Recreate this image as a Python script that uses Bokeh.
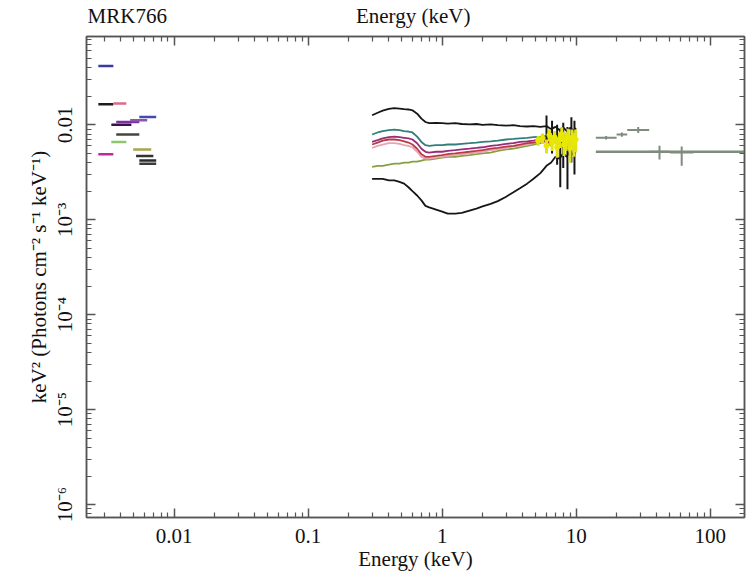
import numpy as np
from bokeh.plotting import figure
from bokeh.models import (LogAxis, FixedTicker, CustomJSTickFormatter,
                          ColumnDataSource, Range1d)
from bokeh.embed import file_html
from bokeh.resources import INLINE

# ---------------------------------------------------------------- data
# Optical/UV photometry: energy band (keV), flux (keV^2 ph cm^-2 s^-1 keV^-1)
OM_E_LO = [0.00272, 0.00272, 0.00352, 0.00340, 0.00370, 0.00550, 0.00470,
           0.00370, 0.00340, 0.00272, 0.00495, 0.00520, 0.00550, 0.00550]
OM_E_HI = [0.00352, 0.00352, 0.00440, 0.00480, 0.00550, 0.00735, 0.00630,
           0.00550, 0.00440, 0.00352, 0.00675, 0.00700, 0.00735, 0.00735]
OM_FLUX = [0.0415, 0.0165, 0.0168, 0.0100, 0.0107, 0.0121, 0.0112,
           0.0079, 0.0066, 0.0049, 0.0055, 0.0047, 0.0042, 0.0039]
OM_COLOR = ["#3a3aa6", "#1e1e1e", "#d86a8a", "#3a1050", "#7a30a0", "#4848b0",
            "#8a58aa", "#444444", "#8cc86a", "#c0289e", "#a6a64a", "#333333",
            "#2a2a2a", "#3a3a3a"]

# X-ray spectra (0.3-10 keV) on a common energy grid
XR_E = [0.30, 0.33, 0.36, 0.40, 0.44, 0.48, 0.52, 0.56, 0.60, 0.65, 0.70, 0.75,
        0.80, 0.90, 1.00, 1.10, 1.25, 1.40, 1.60, 1.80, 2.00, 2.30, 2.60, 3.00,
        3.40, 3.80, 4.30, 4.80, 5.40, 6.00, 6.50, 7.00, 7.50, 8.00, 8.50, 9.00,
        9.50, 10.0]
SPEC_HIGH = [0.0126, 0.0134, 0.0141, 0.0147, 0.0150, 0.0148, 0.0146, 0.0145,
             0.0142, 0.0131, 0.0116, 0.0107, 0.0104, 0.0105, 0.0104, 0.0103,
             0.0104, 0.0102, 0.0101, 0.0102, 0.0100, 0.0101, 0.0099, 0.0098,
             0.0099, 0.0097, 0.0096, 0.0097, 0.0095, 0.0097, 0.0090, 0.0095,
             0.0088, 0.0094, 0.0086, 0.0093, 0.0087, 0.0092]
SPEC_TEAL = [0.0079, 0.0083, 0.0086, 0.0088, 0.0089, 0.0088, 0.0086, 0.0085,
             0.0083, 0.0075, 0.0066, 0.0061, 0.0060, 0.0061, 0.0061, 0.0062,
             0.0062, 0.0063, 0.0064, 0.0065, 0.0066, 0.0067, 0.0068, 0.0070,
             0.0071, 0.0072, 0.0073, 0.0074, 0.0075, 0.0076, 0.0072, 0.0078,
             0.0071, 0.0077, 0.0070, 0.0078, 0.0072, 0.0076]
SPEC_MAGENTA = [0.0066, 0.0069, 0.0072, 0.0074, 0.0075, 0.0074, 0.0073, 0.0072,
                0.0070, 0.0064, 0.0056, 0.0052, 0.0051, 0.0052, 0.0052, 0.0053,
                0.0054, 0.0055, 0.0056, 0.0057, 0.0058, 0.0060, 0.0061, 0.0063,
                0.0064, 0.0066, 0.0067, 0.0068, 0.0070, 0.0071, 0.0067, 0.0073,
                0.0066, 0.0072, 0.0065, 0.0074, 0.0066, 0.0071]
SPEC_RED = [0.0062, 0.0065, 0.0068, 0.0070, 0.0070, 0.0069, 0.0067, 0.0065,
            0.0062, 0.0056, 0.0049, 0.0046, 0.0046, 0.0047, 0.0048, 0.0049,
            0.0050, 0.0051, 0.0052, 0.0053, 0.0054, 0.0056, 0.0057, 0.0059,
            0.0060, 0.0062, 0.0064, 0.0065, 0.0067, 0.0068, 0.0063, 0.0070,
            0.0062, 0.0069, 0.0061, 0.0071, 0.0063, 0.0068]
SPEC_PINK = [0.0057, 0.0060, 0.0062, 0.0064, 0.0064, 0.0063, 0.0061, 0.0060,
             0.0058, 0.0052, 0.0046, 0.0044, 0.0044, 0.0045, 0.0046, 0.0047,
             0.0048, 0.0049, 0.0050, 0.0051, 0.0052, 0.0054, 0.0055, 0.0057,
             0.0059, 0.0060, 0.0062, 0.0064, 0.0066, 0.0067, 0.0061, 0.0069,
             0.0060, 0.0068, 0.0062, 0.0070, 0.0061, 0.0067]
SPEC_OLIVE = [0.0036, 0.0037, 0.0037, 0.0038, 0.0039, 0.0039, 0.0040, 0.0040,
              0.0041, 0.0041, 0.0042, 0.0043, 0.0043, 0.0044, 0.0045, 0.0046,
              0.0046, 0.0047, 0.0048, 0.0049, 0.0050, 0.0051, 0.0053, 0.0055,
              0.0056, 0.0058, 0.0060, 0.0062, 0.0064, 0.0066, 0.0060, 0.0068,
              0.0059, 0.0067, 0.0058, 0.0069, 0.0060, 0.0066]
SPEC_LOW = [0.0027, 0.0027, 0.0027, 0.0026, 0.0026, 0.0025, 0.0024, 0.0022,
            0.0020, 0.0018, 0.0016, 0.00140, 0.00135, 0.00128, 0.00122, 0.00116,
            0.00116, 0.00118, 0.00125, 0.00131, 0.00138, 0.00147, 0.00157,
            0.00175, 0.00195, 0.00215, 0.00240, 0.00270, 0.0031, 0.0037, 0.0040,
            0.0046, 0.0044, 0.0050, 0.0046, 0.0053, 0.0048, 0.0054]
SPEC_SERIES = [SPEC_LOW, SPEC_OLIVE, SPEC_PINK, SPEC_RED, SPEC_MAGENTA,
               SPEC_TEAL, SPEC_HIGH]
SPEC_COLORS = ["#161616", "#86a040", "#e6a4b4", "#b83a44", "#9a2a7a",
               "#2f7f7a", "#161616"]

# high-energy end of the pn spectra: binned points with errors
HI_E = [5.2, 5.6, 6.0, 6.3, 6.6, 6.9, 7.2, 7.5, 7.8, 8.1, 8.4, 8.7, 9.0, 9.3,
        9.6, 9.9]
HI_F = [0.0068, 0.0072, 0.0060, 0.0078, 0.0065, 0.0074, 0.0058, 0.0070,
        0.0080, 0.0062, 0.0068, 0.0075, 0.0057, 0.0072, 0.0064, 0.0070]
HI_ERR = [0.0008, 0.0009, 0.0010, 0.0011, 0.0012, 0.0012, 0.0013, 0.0013,
          0.0014, 0.0015, 0.0015, 0.0016, 0.0017, 0.0017, 0.0018, 0.0019]
SPIKE_E = [6.0, 6.6, 7.2, 7.6, 8.0, 8.6, 9.2, 9.7]
SPIKE_LO = [0.0065, 0.0050, 0.0038, 0.0022, 0.0035, 0.0021, 0.0040, 0.0030]
SPIKE_HI = [0.0125, 0.0110, 0.0100, 0.0090, 0.0105, 0.0095, 0.0120, 0.0110]

# hard X-ray survey points and model
BAT_E_LO = [14.0, 20.0, 24.0, 35.0, 50.0]
BAT_E_HI = [20.0, 24.0, 35.0, 50.0, 75.0]
BAT_E = [16.7, 21.9, 29.0, 41.8, 61.2]
BAT_F = [0.0073, 0.0079, 0.0088, 0.0052, 0.0051]
BAT_F_LO = [0.0070, 0.0075, 0.0082, 0.0043, 0.0037]
BAT_F_HI = [0.0076, 0.0083, 0.0095, 0.0060, 0.0059]
BAT_MODEL_E = [14.0, 195.0]
BAT_MODEL_F = [0.0052, 0.0052]

X_TICKS = [0.01, 0.1, 1.0, 10.0, 100.0]
X_TICK_LABELS = ["0.01", "0.1", "1", "10", "100"]
Y_TICKS = [1e-6, 1e-5, 1e-4, 1e-3, 1e-2]
Y_TICK_LABELS = ["10\u207b\u2076", "10\u207b\u2075", "10\u207b\u2074",
                 "10\u207b\u00b3", "0.01"]
SOURCE_NAME = "MRK766"
ENERGY_TITLE = "Energy (keV)"

# ---------------------------------------------------------------- figure
FONT = "Liberation Serif"
FONT_SIZE = "21px"
AXIS_COLOR = "#555555"
TOP, BOTTOM, LEFT, RIGHT = 36, 53, 86, 4

p = figure(width=748, height=573, x_axis_type="log", y_axis_type="log",
           x_range=Range1d(0.00222, 180.0), y_range=Range1d(10 ** -6.136, 10 ** -1.07),
           output_backend="svg", toolbar_location=None,
           min_border_left=LEFT, min_border_right=RIGHT, min_border_top=TOP,
           min_border_bottom=BOTTOM, background_fill_color="white",
           border_fill_color="white")
p.grid.visible = False
p.outline_line_color = AXIS_COLOR
p.outline_line_width = 1.5

x_minor = [m * 10.0 ** k for k in range(-3, 3) for m in range(2, 10)]
y_minor = [m * 10.0 ** k for k in range(-7, -1) for m in range(2, 10)]

label_fmt_code = """
let best = 0, bd = Infinity;
for (let i = 0; i < tick_vals.length; i++) {
  const d = Math.abs(Math.log10(tick) - Math.log10(tick_vals[i]));
  if (d < bd) { bd = d; best = i; }
}
return tick_text[best];
"""
blank_fmt = CustomJSTickFormatter(code="return '';")


def style_axis(ax):
    ax.axis_line_color = AXIS_COLOR
    ax.axis_line_width = 1.5
    ax.major_tick_line_color = AXIS_COLOR
    ax.minor_tick_line_color = AXIS_COLOR
    ax.major_tick_line_width = 1.5
    ax.minor_tick_line_width = 1.2
    ax.major_tick_in = 9
    ax.major_tick_out = 0
    ax.minor_tick_in = 5
    ax.minor_tick_out = 0
    ax.major_label_text_font = FONT
    ax.major_label_text_font_size = FONT_SIZE
    ax.major_label_text_color = "#111111"
    ax.axis_label_text_font = FONT
    ax.axis_label_text_font_size = FONT_SIZE
    ax.axis_label_text_font_style = "normal"
    ax.axis_label_text_color = "#111111"


xb = p.xaxis[0]
xb.ticker = FixedTicker(ticks=X_TICKS, minor_ticks=x_minor)
xb.formatter = CustomJSTickFormatter(args=dict(tick_vals=X_TICKS, tick_text=X_TICK_LABELS),
                                     code=label_fmt_code)
xb.axis_label = ENERGY_TITLE
style_axis(xb)
xb.major_label_standoff = 11
xb.axis_label_standoff = 1

yl = p.yaxis[0]
yl.ticker = FixedTicker(ticks=Y_TICKS, minor_ticks=y_minor)
yl.formatter = CustomJSTickFormatter(args=dict(tick_vals=Y_TICKS, tick_text=Y_TICK_LABELS),
                                     code=label_fmt_code)
yl.axis_label = "keV\u00b2 (Photons cm\u207b\u00b2 s\u207b\u00b9 keV\u207b\u00b9)"
style_axis(yl)
yl.major_label_orientation = "vertical"
yl.major_label_standoff = 9
yl.axis_label_standoff = 0

# top axis: ticks only; its title line carries the source name at the left
# edge and the energy title near the middle (no-break spaces keep the gap)
NBSP = "\u00a0"
top_title = SOURCE_NAME + NBSP * 36 + ENERGY_TITLE + NBSP * 52
xt = LogAxis(ticker=FixedTicker(ticks=X_TICKS, minor_ticks=x_minor),
             formatter=blank_fmt, axis_label=top_title)
style_axis(xt)
xt.major_label_standoff = 0
xt.axis_label_standoff = 9
p.add_layout(xt, "above")

yr = LogAxis(ticker=FixedTicker(ticks=Y_TICKS, minor_ticks=y_minor),
             formatter=blank_fmt)
style_axis(yr)
yr.major_label_standoff = 0
p.add_layout(yr, "right")

# ---------------------------------------------------------------- glyphs
om = ColumnDataSource(dict(x0=OM_E_LO, x1=OM_E_HI, y=OM_FLUX, c=OM_COLOR))
p.segment(x0="x0", x1="x1", y0="y", y1="y", color="c", line_width=2.5, source=om)

for vals, col in zip(SPEC_SERIES, SPEC_COLORS):
    p.line(XR_E, vals, line_color=col, line_width=1.8)

hi_lo = [f - e for f, e in zip(HI_F, HI_ERR)]
hi_hi = [f + e for f, e in zip(HI_F, HI_ERR)]
p.segment(x0=SPIKE_E, x1=SPIKE_E, y0=SPIKE_LO, y1=SPIKE_HI,
          line_color="#161616", line_width=2)
p.segment(x0=HI_E, x1=HI_E, y0=hi_lo, y1=hi_hi, line_color="#e2e21a", line_width=3)
p.scatter(HI_E, HI_F, size=5, color="#e8e800")

BAT_COLOR = "#7e8c7e"
p.line(BAT_MODEL_E, BAT_MODEL_F, line_color=BAT_COLOR, line_width=2.5)
p.segment(x0=BAT_E_LO, x1=BAT_E_HI, y0=BAT_F, y1=BAT_F, line_color=BAT_COLOR,
          line_width=2)
p.segment(x0=BAT_E, x1=BAT_E, y0=BAT_F_LO, y1=BAT_F_HI, line_color=BAT_COLOR,
          line_width=2)

open("out.html", "w").write(file_html(p, INLINE))
